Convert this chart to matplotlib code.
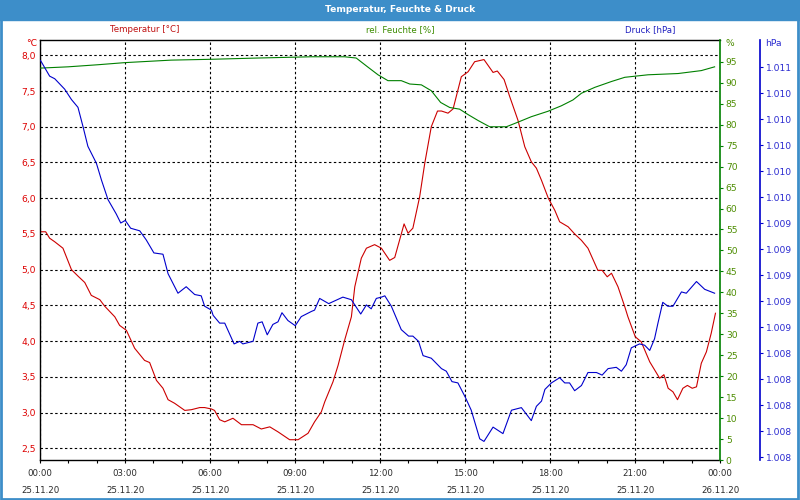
import matplotlib
matplotlib.use('Agg')
import matplotlib.pyplot as plt
from matplotlib.patches import Rectangle
from matplotlib.ticker import FixedLocator, MultipleLocator

# hours since 25.11.20 00:00
temp_hours = [0.02, 0.2, 0.34, 0.52, 0.81, 0.93, 1.11, 1.34, 1.58, 1.81, 2.11, 2.28, 2.64, 2.81,
              3.05, 3.34, 3.69, 3.87, 4.11, 4.34, 4.52, 4.75, 5.11, 5.34, 5.64, 5.81, 6.05, 6.16,
              6.34, 6.52, 6.81, 7.11, 7.52, 7.81, 8.11, 8.40, 8.81, 9.11, 9.46, 9.69, 9.93, 10.05,
              10.34, 10.52, 10.75, 10.99, 11.11, 11.34, 11.52, 11.81, 12.05, 12.34, 12.52, 12.85,
              12.99, 13.16, 13.40, 13.58, 13.81, 14.03, 14.17, 14.40, 14.58, 14.87, 15.11, 15.34,
              15.67, 15.99, 16.14, 16.38, 16.58, 16.87, 17.11, 17.34, 17.52, 17.70, 17.94, 18.17,
              18.34, 18.64, 18.87, 19.11, 19.34, 19.69, 19.84, 20.02, 20.17, 20.40, 20.64, 20.75,
              21.01, 21.22, 21.52, 21.87, 22.02, 22.17, 22.34, 22.50, 22.69, 22.85, 23.02, 23.17,
              23.34, 23.52, 23.69, 23.84]
temp_values = [5.53, 5.53, 5.44, 5.39, 5.30, 5.18, 5.00, 4.91, 4.82, 4.64, 4.58, 4.49, 4.34, 4.22,
               4.15, 3.90, 3.73, 3.70, 3.45, 3.34, 3.18, 3.13, 3.03, 3.04, 3.07, 3.07, 3.05, 3.03,
               2.90, 2.87, 2.92, 2.83, 2.83, 2.77, 2.80, 2.73, 2.62, 2.62, 2.71, 2.87, 3.01, 3.15,
               3.43, 3.66, 4.01, 4.34, 4.76, 5.16, 5.30, 5.35, 5.30, 5.13, 5.17, 5.64,
               5.51, 5.58, 6.02, 6.49, 7.00, 7.22, 7.22, 7.19, 7.25, 7.70, 7.77, 7.91,
               7.94, 7.76, 7.78, 7.66, 7.42, 7.09, 6.72, 6.51, 6.42, 6.25, 6.00, 5.83,
               5.67, 5.60, 5.50, 5.41, 5.30, 4.99, 4.99, 4.90, 4.95, 4.76, 4.48, 4.34,
               4.06, 3.99, 3.71, 3.48, 3.53, 3.34, 3.29, 3.18, 3.34, 3.38, 3.34, 3.36,
               3.69, 3.85, 4.11, 4.39]

hum_hours = [0.02, 0.99, 2.05, 2.99, 4.63, 6.05, 7.69, 9.58, 10.75, 11.16, 11.58, 11.93, 12.28,
             12.75, 13.05, 13.46, 13.81, 14.14, 14.46, 14.81, 15.11, 15.46, 15.87, 16.46, 16.87,
             17.34, 17.93, 18.40, 18.81, 19.11, 19.58, 20.17, 20.64, 21.46, 22.52, 23.34, 23.81]
hum_values = [93.5, 93.8, 94.3, 94.8, 95.4, 95.6, 95.9, 96.2, 96.2, 95.9, 93.7, 91.9, 90.5,
              90.5, 89.7, 89.5, 88.1, 85.3, 84.1, 83.7, 82.4, 81.0, 79.5, 79.5, 80.6,
              81.9, 83.2, 84.5, 85.9, 87.5, 88.9, 90.3, 91.3, 91.9, 92.2, 92.9, 93.8]

pres_hours = [0.02, 0.34, 0.52, 0.87, 1.11, 1.34, 1.52, 1.69, 1.99, 2.17, 2.40, 2.69, 2.85, 3.01,
              3.20, 3.52, 3.75, 4.02, 4.34, 4.52, 4.87, 5.16, 5.46, 5.69, 5.81, 6.05, 6.11, 6.34,
              6.52, 6.85, 7.05, 7.16, 7.52, 7.69, 7.84, 8.02, 8.22, 8.40, 8.54, 8.75, 9.01, 9.22,
              9.58, 9.69, 9.87, 10.19, 10.69, 10.99, 11.32, 11.52, 11.69, 11.87, 12.05, 12.17,
              12.40, 12.75, 13.01, 13.16, 13.36, 13.52, 13.81, 14.17, 14.34, 14.54, 14.75, 15.01,
              15.22, 15.52, 15.67, 15.99, 16.34, 16.64, 16.99, 17.34, 17.52, 17.70, 17.82, 18.05,
              18.34, 18.52, 18.69, 18.87, 19.11, 19.34, 19.64, 19.84, 20.05, 20.34, 20.52, 20.69,
              20.87, 21.16, 21.34, 21.52, 21.69, 21.81, 21.98, 22.16, 22.34, 22.64, 22.81, 23.17,
              23.46, 23.81]
pres_values = [1010.65, 1010.53, 1010.51, 1010.43, 1010.35, 1010.29, 1010.14, 1009.99, 1009.86,
               1009.73, 1009.58, 1009.47, 1009.40, 1009.42, 1009.36, 1009.34, 1009.27, 1009.17,
               1009.16, 1009.01, 1008.86, 1008.91, 1008.85, 1008.84, 1008.76, 1008.73, 1008.69,
               1008.63, 1008.63, 1008.47, 1008.49, 1008.47, 1008.49, 1008.63, 1008.64, 1008.54,
               1008.62, 1008.64, 1008.71, 1008.65, 1008.61, 1008.68, 1008.72, 1008.73, 1008.82,
               1008.78, 1008.83, 1008.81, 1008.70, 1008.77, 1008.74, 1008.82, 1008.83, 1008.84,
               1008.76, 1008.58, 1008.53, 1008.53, 1008.49, 1008.38, 1008.36, 1008.28, 1008.26,
               1008.18, 1008.17, 1008.06, 1007.96, 1007.74, 1007.72, 1007.83, 1007.78, 1007.96,
               1007.98, 1007.88, 1007.99, 1008.03, 1008.12, 1008.17, 1008.21, 1008.17, 1008.17,
               1008.11, 1008.15, 1008.25, 1008.25, 1008.23, 1008.28, 1008.29, 1008.26, 1008.31,
               1008.44, 1008.47, 1008.46, 1008.42, 1008.51, 1008.63, 1008.79, 1008.76, 1008.76,
               1008.87, 1008.86, 1008.95, 1008.89, 1008.86]

x_ticks = [0, 3, 6, 9, 12, 15, 18, 21, 24]
x_tick_labels = ['00:00\n25.11.20', '03:00\n25.11.20', '06:00\n25.11.20', '09:00\n25.11.20',
                 '12:00\n25.11.20', '15:00\n25.11.20', '18:00\n25.11.20', '21:00\n25.11.20',
                 '00:00\n26.11.20']
temp_ticks = [2.5, 3.0, 3.5, 4.0, 4.5, 5.0, 5.5, 6.0, 6.5, 7.0, 7.5, 8.0]
hum_ticks = [0, 5, 10, 15, 20, 25, 30, 35, 40, 45, 50, 55, 60, 65, 70, 75, 80, 85, 90, 95]
pres_ticks = [1007.6, 1007.8, 1008.0, 1008.2, 1008.4, 1008.6, 1008.8, 1009.0, 1009.2, 1009.4,
              1009.6, 1009.8, 1010.0, 1010.2, 1010.4, 1010.6]

RED = '#cc0000'
GREEN = '#008000'
BLUE = '#0000cc'
BAR = '#3d8ec9'

plt.rcParams['font.family'] = 'DejaVu Sans'
plt.rcParams['font.size'] = 6.2

fig = plt.figure(figsize=(8, 5), dpi=100)
fig.patch.set_facecolor('white')

# title bar and frame
fig.add_artist(Rectangle((0, 0.96), 1, 0.04, transform=fig.transFigure, color=BAR, zorder=0))
fig.add_artist(Rectangle((0.001, 0.002), 0.997, 0.996, transform=fig.transFigure,
                         fill=False, edgecolor=BAR, linewidth=2))
fig.text(0.5, 0.982, 'Temperatur, Feuchte & Druck', color='white', fontweight='bold',
         fontsize=6.6, ha='center', va='center')

ax = fig.add_axes([0.05, 0.08, 0.85, 0.84])
ax.set_xlim(0, 24)
ax.set_ylim(2.336, 8.214)

ax2 = ax.twinx()
ax2.set_ylim(0, 100.2)
ax3 = ax.twinx()
ax3.set_ylim(1007.577, 1010.808)
ax3.spines['right'].set_position(('axes', 1 + 40 / 680))

ax.plot(temp_hours, temp_values, color=RED, linewidth=0.8)
ax2.plot(hum_hours, hum_values, color=GREEN, linewidth=0.8)
ax3.plot(pres_hours, pres_values, color=BLUE, linewidth=0.8)

# grid
ax.yaxis.set_major_locator(FixedLocator(temp_ticks))
ax.set_yticklabels([f'{v:.1f}'.replace('.', ',') for v in temp_ticks])
ax.set_xticks(x_ticks)
ax.set_xticklabels(x_tick_labels, linespacing=2.1)
ax.xaxis.set_minor_locator(MultipleLocator(1))
ax.grid(True, which='major', color='black', linestyle=(0, (2.2, 2.2)), linewidth=0.8)

ax.tick_params(axis='y', length=0, pad=3, labelcolor='#dd0000', labelsize=6.6)
ax.tick_params(axis='x', which='both', direction='out', length=2.4, width=0.8,
               pad=4, labelcolor='#2a2a2a')
for s in ['left', 'bottom', 'top']:
    ax.spines[s].set_color('black')
    ax.spines[s].set_linewidth(1.0)
ax.spines['right'].set_visible(False)

ax2.set_yticks(hum_ticks)
ax2.set_yticklabels([str(v) for v in hum_ticks])
ax2.tick_params(axis='y', direction='out', length=2.2, width=0.8, color=GREEN,
                pad=2, labelcolor='#4c8c00', labelsize=6.6)
for s in ['left', 'bottom', 'top']:
    ax2.spines[s].set_visible(False)
ax2.spines['right'].set_color(GREEN)
ax2.spines['right'].set_linewidth(1.2)

ax3.set_yticks(pres_ticks)
ax3.set_yticklabels([f'{v / 1000:.3f}' for v in pres_ticks])
ax3.tick_params(axis='y', direction='out', length=2.2, width=0.8, color=BLUE,
                pad=2, labelcolor='#2a2ad0', labelsize=6.6)
for s in ['left', 'bottom', 'top']:
    ax3.spines[s].set_visible(False)
ax3.spines['right'].set_color(BLUE)
ax3.spines['right'].set_linewidth(1.2)

# header labels and units
fig.text(145 / 800, 1 - 30 / 500, 'Temperatur [°C]', color='#c01010', ha='center', va='center')
fig.text(400 / 800, 1 - 30 / 500, 'rel. Feuchte [%]', color='#3c8c00', ha='center', va='center')
fig.text(650 / 800, 1 - 30 / 500, 'Druck [hPa]', color='#2020c0', ha='center', va='center')
fig.text(37 / 800, 1 - 44 / 500, '°C', color='#dd0000', ha='right', va='center', fontsize=6.6)
fig.text(725 / 800, 1 - 44 / 500, '%', color='#4c8c00', ha='left', va='center', fontsize=6.6)
fig.text(765 / 800, 1 - 44 / 500, 'hPa', color='#2a2ad0', ha='left', va='center', fontsize=6.6)

fig.savefig('out.png', dpi=100)
